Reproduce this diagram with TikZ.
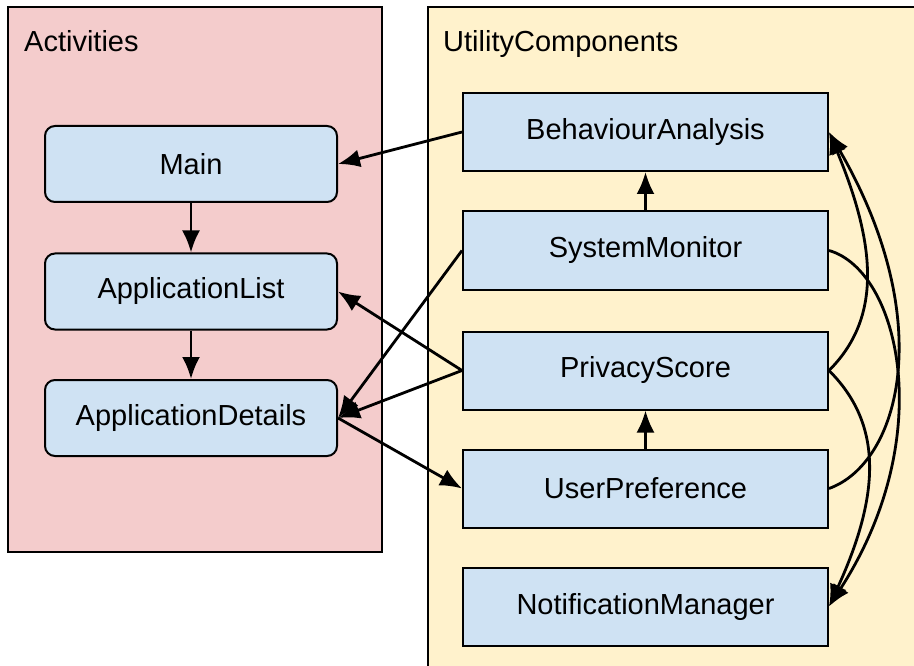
\documentclass[tikz,border=0pt]{standalone}
\usepackage{fontspec}
\setmainfont{Liberation Sans}
\usetikzlibrary{arrows.meta}
\definecolor{actpink}{HTML}{F4CCCC}
\definecolor{utilyellow}{HTML}{FFF2CC}
\definecolor{boxblue}{HTML}{CFE2F3}
\tikzset{
  frame/.style={draw=black, line width=2pt},
  activity/.style={draw, line width=2pt, fill=boxblue, rounded corners=10pt, minimum width=292pt, minimum height=76pt, font=\fontsize{29}{34}\selectfont},
  utility/.style={draw, line width=2pt, fill=boxblue, minimum width=365pt, minimum height=78pt, font=\fontsize{29}{34}\selectfont},
  link/.style={-{Latex[length=22pt,width=18pt]}, line width=2.8pt},
}
\begin{document}
\begin{tikzpicture}[x=1pt, y=1pt]
\useasboundingbox (0,0) rectangle (914,-666);
\clip (0,0) rectangle (914,-666);
% frames
\draw[frame, fill=actpink] (8,-7) rectangle (382,-552);
\draw[frame, fill=utilyellow] (428,-7) rectangle (930,-690);
\node[anchor=base west, inner sep=0pt, font=\fontsize{29}{34}\selectfont] (acttitle) at (24,-52) {Activities};
\node[anchor=base west, inner sep=0pt, font=\fontsize{29}{34}\selectfont] (utiltitle) at (443,-52) {UtilityComponents};
% activities
\node[activity] (main) at (191,-164) {Main};
\node[activity] (applist) at (191,-291.5) {ApplicationList};
\node[activity] (appdetails) at (191,-418) {ApplicationDetails};
% utility components
\node[utility] (behaviour) at (645.5,-132) {BehaviourAnalysis};
\node[utility] (sysmon) at (645.5,-250.5) {SystemMonitor};
\node[utility] (privacy) at (645.5,-370.5) {PrivacyScore};
\node[utility] (userpref) at (645.5,-488.5) {UserPreference};
\node[utility] (notify) at (645.5,-606.5) {NotificationManager};
% connectors
\draw[link] (main) -- (applist);
\draw[link] (applist) -- (appdetails);
\draw[link] (behaviour.west) -- (main.east);
\draw[link] (sysmon.west) -- (appdetails.east);
\draw[link] (privacy.west) -- (applist.east);
\draw[link] (privacy.west) -- (appdetails.east);
\draw[link] (appdetails.east) -- (userpref.west);
\draw[link] (sysmon) -- (behaviour);
\draw[link] (userpref) -- (privacy);
\draw[link] (sysmon.east) .. controls +(70,-20) and +(110,170) .. (notify.east);
\draw[link] (privacy.east) .. controls +(50,50) and +(50,-120) .. (behaviour.east);
\draw[link] (privacy.east) .. controls +(50,-50) and +(55,120) .. (notify.east);
\draw[link] (userpref.east) .. controls +(70,25) and +(110,-190) .. (behaviour.east);
\end{tikzpicture}
\end{document}
